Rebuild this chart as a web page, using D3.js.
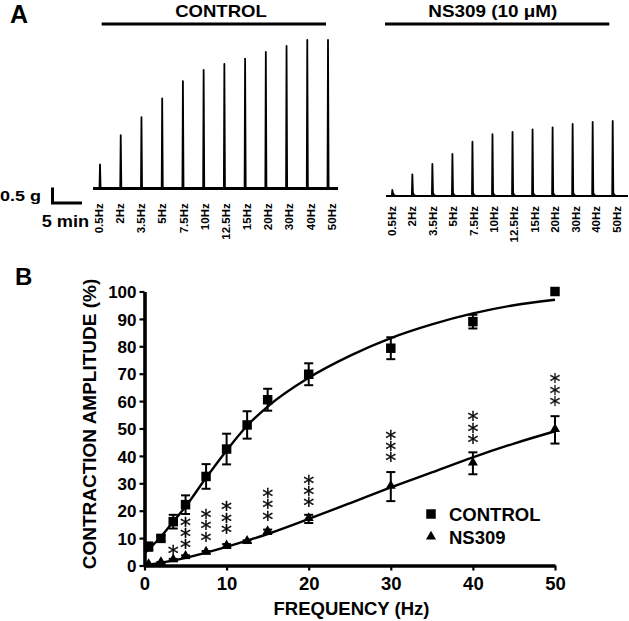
<!DOCTYPE html>
<html>
<head>
<meta charset="utf-8">
<script src="https://cdn.jsdelivr.net/npm/d3@7"></script>
<style>
  html, body { margin: 0; padding: 0; background: #fff; }
  svg { display: block; }
</style>
</head>
<body>
<script>
// ---------------- DATA ----------------
const freqLabels = ["0.5Hz","2Hz","3.5Hz","5Hz","7.5Hz","10Hz","12.5Hz","15Hz","20Hz","30Hz","40Hz","50Hz"];
const frequencies = [0.5, 2, 3.5, 5, 7.5, 10, 12.5, 15, 20, 30, 40, 50];

// Panel A: twitch amplitudes (g)
const traceControl = [0.8, 1.78, 2.38, 3.0, 3.58, 3.95, 4.15, 4.33, 4.55, 4.75, 4.95, 4.95];
const traceNS309   = [0.2, 0.72, 1.07, 1.4, 1.81, 2.06, 2.14, 2.22, 2.29, 2.4, 2.47, 2.5];

// Panel B: contraction amplitude (%)
const controlMean = [6.9, 9.9, 16, 22.2, 32.5, 42.5, 51.3, 60.5, 69.8, 79.3, 89, 100];
const controlErr  = [1.5, 1, 2.5, 3.4, 4.5, 5.6, 5, 4, 4, 4, 2.5, 0];
const ns309Mean   = [0.2, 1, 2, 3.2, 4.8, 7.1, 8.7, 12.3, 17, 28.8, 37.3, 49.5];
const ns309Err    = [0.3, 0.3, 0.4, 0.5, 0.5, 0.7, 0.5, 0.8, 1.5, 5.3, 4, 5];

// fitted curves
const controlFitX = [0, 2, 3.5, 5, 7.5, 10, 12.5, 15, 20, 25, 30, 35, 40, 45, 50];
const controlFitY = [4.5, 10.5, 16, 21.5, 32, 42, 51, 58, 68.5, 76.5, 83, 88, 92, 95, 97];
const ns309FitX = [0, 5, 10, 15, 20, 25, 30, 35, 40, 45, 50];
const ns309FitY = [0, 2.8, 6.8, 11.5, 17, 22.7, 28.5, 34, 39.5, 44.5, 49];

// significance marks
const sigFreq  = [3.5, 5, 7.5, 10, 15, 20, 30, 40, 50];
const sigLabel = ["*", "***", "***", "***", "***", "***", "***", "***", "***"];
const sigLevel = [5.5, 7.8, 10.5, 13.3, 18.2, 23, 39.5, 46.2, 60];

const xTicks = [0, 10, 20, 30, 40, 50];
const yTicks = [0, 10, 20, 30, 40, 50, 60, 70, 80, 90, 100];

// ---------------- DRAW ----------------
const W = 629, H = 621;
const FONT = "'Liberation Sans', Arial, Helvetica, sans-serif";
const svg = d3.select("body").append("svg").attr("width", W).attr("height", H)
  .style("font-family", FONT);

// Panel labels
svg.append("text").attr("x", 10).attr("y", 23).attr("font-size", 25).attr("font-weight", "bold").text("A");
svg.append("text").attr("x", 15).attr("y", 285).attr("font-size", 24).attr("font-weight", "bold").text("B");

// ---- Panel A ----
function header(txt, cx, width, x0, x1) {
  svg.append("text").attr("x", cx).attr("y", 17).attr("text-anchor", "middle")
    .attr("font-size", 16.3).attr("font-weight", "bold")
    .attr("textLength", width).attr("lengthAdjust", "spacingAndGlyphs").text(txt);
  svg.append("line").attr("x1", x0).attr("x2", x1).attr("y1", 24).attr("y2", 24)
    .attr("stroke", "#000").attr("stroke-width", 3.2);
}
header("CONTROL", 221, 91.7, 101.7, 326);
header("NS309 (10 \u03BCM)", 492.8, 129, 385, 609.3);

const gScale = d3.scaleLinear().domain([0, 1]).range([0, -30]); // grams -> px offset

function drawTrace(amps, xStart, xEnd, base, startX, endX, labStart, labEnd, labTop, decay) {
  const xs = d3.scalePoint().domain(freqLabels).range([xStart, xEnd]);
  const xl = d3.scalePoint().domain(freqLabels).range([labStart, labEnd]);
  svg.append("line").attr("x1", startX).attr("x2", endX).attr("y1", base).attr("y2", base)
    .attr("stroke", "#000").attr("stroke-width", decay ? 1.8 : 3.2);
  const pts = [];
  freqLabels.forEach((f, i) => {
    const x = xs(f), top = base + gScale(amps[i]);
    pts.push([x - 0.5, base]);
    pts.push([x, top]);
    if (decay) {
      pts.push([x + 0.6, base - 3.5]);
      pts.push([x + 1.6, base - 1.0]);
      pts.push([x + 3.5, base - 0.2]);
      pts.push([x + 6, base]);
    } else {
      pts.push([x + 0.6, base]);
    }
  });
  svg.append("path").attr("d", d3.line()(pts)).attr("fill", "none")
    .attr("stroke", "#000").attr("stroke-width", 1.8).attr("stroke-linejoin", "round");
  freqLabels.forEach((f) => {
    svg.append("text")
      .attr("transform", `translate(${xl(f) + 4},${labTop}) rotate(-90)`)
      .attr("text-anchor", "end").attr("font-size", 11.5).attr("font-weight", "bold")
      .text(f);
  });
}
drawTrace(traceControl, 100, 328, 188.5, 93, 338, 99, 331.7, 203.3, false);
drawTrace(traceNS309, 392.3, 612.7, 196, 386, 628, 391.7, 616.7, 206, true);

// scale bar
svg.append("path").attr("d", "M52.5,187.5 L52.5,203 L82,203").attr("fill", "none")
  .attr("stroke", "#000").attr("stroke-width", 3);
svg.append("text").attr("x", 0).attr("y", 200.7).attr("font-size", 15).attr("font-weight", "bold")
  .attr("textLength", 41).attr("lengthAdjust", "spacingAndGlyphs").text("0.5 g");
svg.append("text").attr("x", 41.7).attr("y", 226.7).attr("font-size", 16).attr("font-weight", "bold")
  .attr("textLength", 47.5).attr("lengthAdjust", "spacingAndGlyphs").text("5 min");

// ---- Panel B ----
const x = d3.scaleLinear().domain([0, 50]).range([144.5, 555]);
const y = d3.scaleLinear().domain([0, 100]).range([565.5, 291.5]);

const yAxis = svg.append("g").attr("transform", `translate(${x(0)},0)`)
  .call(d3.axisLeft(y).tickValues(yTicks).tickSize(5).tickPadding(3).tickSizeOuter(0));
const xAxis = svg.append("g").attr("transform", `translate(0,${y(0)})`)
  .call(d3.axisBottom(x).tickValues(xTicks).tickSize(5).tickPadding(3).tickSizeOuter(0));
[yAxis, xAxis].forEach(g => {
  g.select(".domain").attr("stroke", "#000").attr("stroke-width", 3.6);
  g.selectAll(".tick line").attr("stroke", "#000").attr("stroke-width", 2.2);
  g.selectAll(".tick text").attr("fill", "#000").attr("font-family", FONT).attr("font-weight", "bold");
});
yAxis.selectAll(".tick text").attr("font-size", 17).attr("dy", "0.36em");
xAxis.selectAll(".tick text").attr("font-size", 18.5).attr("dy", 0).attr("y", 24.5);

svg.append("text").attr("transform", `translate(96,424) rotate(-90)`)
  .attr("text-anchor", "middle").attr("font-size", 19).attr("font-weight", "bold")
  .text("CONTRACTION AMPLITUDE (%)");
svg.append("text").attr("x", 351.5).attr("y", 615).attr("text-anchor", "middle")
  .attr("font-size", 18.5).attr("font-weight", "bold").text("FREQUENCY (Hz)");

// fit curves
const lineGen = d3.line().x(d => x(d[0])).y(d => y(d[1])).curve(d3.curveMonotoneX);
svg.append("path").attr("d", lineGen(controlFitX.map((v, i) => [v, controlFitY[i]])))
  .attr("fill", "none").attr("stroke", "#000").attr("stroke-width", 2.4);
svg.append("path").attr("d", lineGen(ns309FitX.map((v, i) => [v, ns309FitY[i]])))
  .attr("fill", "none").attr("stroke", "#000").attr("stroke-width", 2.4);

// error bars
function errorBars(means, errs) {
  const g = svg.append("g").attr("stroke", "#000").attr("stroke-width", 2);
  frequencies.forEach((f, i) => {
    if (errs[i] <= 0) return;
    const cx = x(f), y1 = y(means[i] + errs[i]), y2 = y(means[i] - errs[i]);
    g.append("line").attr("x1", cx).attr("x2", cx).attr("y1", y1).attr("y2", y2);
    g.append("line").attr("x1", cx - 4.5).attr("x2", cx + 4.5).attr("y1", y1).attr("y2", y1);
    g.append("line").attr("x1", cx - 4.5).attr("x2", cx + 4.5).attr("y1", y2).attr("y2", y2);
  });
}
errorBars(controlMean, controlErr);
errorBars(ns309Mean, ns309Err);

// markers
const sq = d3.symbol().type(d3.symbolSquare).size(90);
const tri = d3.symbol().type(d3.symbolTriangle).size(44);
svg.append("g").selectAll("path").data(frequencies).join("path")
  .attr("transform", (f, i) => `translate(${x(f)},${y(controlMean[i])})`)
  .attr("d", sq).attr("fill", "#000");
svg.append("g").selectAll("path").data(frequencies).join("path")
  .attr("transform", (f, i) => `translate(${x(f)},${y(ns309Mean[i]) - 0.8})`)
  .attr("d", tri).attr("fill", "#000");

// significance asterisks: one text per group, laid out vertically (rotated run,
// each glyph turned back upright), so stars stack like the reference
const starFs = 22, starStep = 11.3;
const ctx = document.createElement("canvas").getContext("2d");
ctx.font = `${starFs}px 'DejaVu Sans'`;
const m = ctx.measureText("*");
const gx = (m.actualBoundingBoxRight - m.actualBoundingBoxLeft) / 2;
const gy = (m.actualBoundingBoxDescent - m.actualBoundingBoxAscent) / 2;
const adv = m.width;
const starLayer = svg.append("g").attr("opacity", 0.995);
sigFreq.forEach((f, i) => {
  const n = sigLabel[i].length;
  const dxs = d3.range(n).map(k => (k === 0 ? 0 : starStep - adv)).join(" ");
  starLayer.append("text")
    .attr("transform", `translate(${x(f)},${y(sigLevel[i])}) rotate(-90)`)
    .attr("x", gy).attr("y", -gx)
    .attr("dx", dxs)
    .attr("rotate", "90")
    .attr("font-family", "'DejaVu Sans', sans-serif")
    .attr("font-size", starFs).attr("fill", "#000")
    .attr("stroke", "#000").attr("stroke-width", 0.3)
    .text(sigLabel[i]);
});

// legend
svg.append("path").attr("transform", "translate(431,514)").attr("d", sq).attr("fill", "#000");
svg.append("path").attr("transform", "translate(431,536.5)").attr("d", tri).attr("fill", "#000");
svg.append("text").attr("x", 449).attr("y", 520.6).attr("font-size", 18.5).attr("font-weight", "bold").text("CONTROL");
svg.append("text").attr("x", 449).attr("y", 543.6).attr("font-size", 18.5).attr("font-weight", "bold").text("NS309");
</script>
</body>
</html>
